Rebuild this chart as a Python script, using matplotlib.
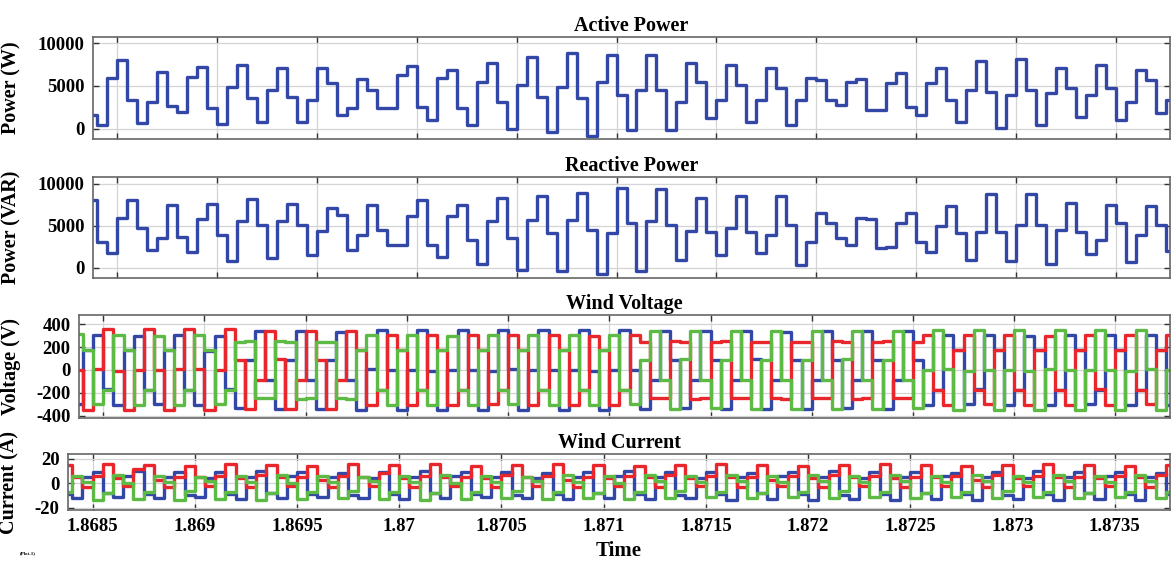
import numpy as np
import matplotlib
matplotlib.use("Agg")
import matplotlib.pyplot as plt

plt.rcParams["font.family"] = ["Liberation Serif", "DejaVu Serif"]
plt.rcParams["font.weight"] = "bold"
plt.rcParams["axes.unicode_minus"] = False

# stepped signals, one value per 50 us step starting at t_start
t_start = 1.86835
t_step = 5e-5

active_power = [
    1630, 470, 5900, 8020, 3370, 700, 3140, 6630, 2670, 1980,
    6050, 7200, 2440, 580, 4880, 7440, 3600, 810, 4530, 7090,
    3720, 810, 3370, 7090, 5350, 1630, 2440, 5810, 4530, 2440,
    2440, 6280, 7330, 2560, 1050, 5930, 6860, 2440, 470, 5470,
    7670, 3140, 0, 5120, 8370, 3720, -350, 4880, 8840, 3600,
    -810, 5470, 8600, 3950, -120, 4530, 8600, 4530, -120, 3140,
    7670, 5470, 1280, 3370, 7440, 5120, 810, 3370, 7090, 4770,
    470, 3370, 5930, 5700, 3370, 2790, 5470, 5810, 2210, 2210,
    5350, 6510, 2560, 1630, 5350, 7090, 3370, 810, 4530, 7910,
    4300, 120, 3950, 8140, 4530, 470, 4190, 7090, 4770, 1400,
    3950, 7440, 4770, 1050, 3140, 6860, 5700, 1860, 3370,
]

reactive_power = [
    8120, 3120, 1720, 5920, 8120, 4720, 2120, 3520, 7520, 3720,
    1840, 5840, 7600, 3920, 800, 5600, 8240, 5120, 1120, 5600,
    7600, 5120, 1520, 4400, 7120, 6320, 2120, 3920, 7520, 4520,
    2720, 2720, 6120, 8120, 2720, 1320, 6120, 7520, 3320, 520,
    5520, 8320, 3520, -280, 5720, 8520, 4120, -400, 5720, 8920,
    4520, -680, 4120, 9520, 5320, -400, 5520, 9320, 5120, 920,
    4400, 8320, 4320, 1520, 4720, 8520, 4320, 1720, 3920, 8520,
    5120, 320, 3120, 6520, 5320, 3520, 2720, 5920, 5840, 2320,
    2500, 5320, 6520, 3120, 1840, 4920, 7320, 4120, 920, 4320,
    8800, 4320, 800, 5120, 8800, 5120, 520, 4520, 7720, 4320,
    1600, 3320, 7520, 5320, 720, 3920, 7320, 5120, 2000,
]

# phase voltages (V), four steps per group
volt_a = [
    -300, 170, 305, -170,  -305, 175, 300, -175,  -300, 170, 305, -175,  -305, 165, 300, -170,
    -335, 90, 340, -90,  -338, 90, 338, -92,  -340, 85, 335, -90,
    -350, 5, 350, 0,  -348, 0, 352, -5,  -350, 0, 350, 0,  -350, -5, 348, 5,
    -352, 0, 350, 0,  -350, 0, 350, -5,  -348, 0, 352, 0,
    -338, -90, 338, 90,  -335, -92, 340, 90,  -338, -90, 338, 92,  -340, -88, 335, 90,
    -338, -90, 340, 90,  -336, -92, 338, 88,  -338, -90, 338, 90,
    -303, -175, 303, 175,  -300, -170, 305, 175,  -305, -175, 300, 172,  -303, -175, 303, 175,
    -300, -172, 305, 175,  -303, -175, 303, 170,  -305,
]
volt_b = [
    0, -350, 5, 360,  -5, -350, 0, 360,  0, -352, 5, 355,  5, -350, 0, 358,
    90, -338, -90, 340,  92, -338, -90, 338,  90, -340, -92, 338,
    175, -303, -175, 305,  172, -305, -175, 303,  175, -303, -172, 303,  175, -300, -175, 305,
    172, -303, -175, 303,  175, -305, -172, 300,  175, -303, -175, 303,
    247, -247, -247, 250,  245, -250, -247, 247,  250, -247, -245, 247,  247, -245, -250, 247,
    245, -247, -247, 250,  247, -250, -245, 247,  250, -247, -247, 245,
    303, -175, -303, 175,  305, -172, -300, 175,  303, -175, -305, 170,  300, -175, -303, 175,
    303, -170, -305, 175,  305, -175, -300, 172,  303,
]
volt_c = [
    310, 175, -300, -175,  305, 178, -303, -172,  300, 175, -305, -175,  305, 172, -300, -178,
    247, 250, -247, -247,  250, 247, -250, -245,  247, 247, -245, -250,
    175, 305, -175, -303,  172, 303, -175, -305,  175, 300, -172, -303,  178, 303, -175, -300,
    175, 303, -175, -305,  172, 305, -178, -303,  175, 303, -175, -300,
    90, 338, -90, -338,  92, 340, -90, -336,  90, 338, -92, -338,  88, 336, -90, -340,
    90, 338, -88, -338,  92, 340, -90, -338,  90, 338, -90, -336,
    0, 350, 5, -350,  -5, 352, 0, -348,  0, 350, -5, -350,  5, 348, 0, -352,
    0, 350, 0, -350,  -5, 352, 5, -350,  0,
]

# phase currents (A), four steps per group
curr_a = [
    15, 5, -3, 6,  16, 4, -2, 12,  15, 3, -3, 5,  14, 5, -2, 6,  16, 4, -3, 7,
    15, 5, -2, 5,  14, 3, -3, 6,  16, 5, -2, 8,  15, 4, -3, 6,  16, 5, -2, 5,
    14, 4, -3, 7,  15, 5, -2, 6,  16, 3, -3, 5,  15, 4, -2, 6,  14, 5, -3, 7,
    15, 4, -2, 6,  16, 5, -3, 5,  15, 3, -2, 6,  14, 4, -3, 7,  15, 5, -2, 6,
    16, 4, -3, 5,  15, 5, -2, 6,  14, 3, -3, 7,  15, 4, -2, 6,  16, 5, -3, 5,
    15, 4, -2, 6,  14, 5, -3, 7,  15,
]
curr_b = [
    -9, -12, 5, 9,  -8, -11, 6, 10,  -9, -12, 5, 9,  -10, -11, 4, 9,  -9, -13, 5, 10,
    -8, -12, 6, 9,  -9, -11, 5, 8,  -10, -12, 4, 9,  -9, -13, 5, 10,  -8, -12, 6, 9,
    -9, -11, 5, 9,  -10, -12, 4, 8,  -9, -13, 5, 9,  -8, -12, 6, 10,  -9, -13, 5, 9,
    -10, -12, 4, 9,  -9, -14, 5, 8,  -8, -13, 6, 9,  -9, -14, 5, 10,  -10, -13, 4, 9,
    -9, -14, 5, 9,  -8, -13, 6, 8,  -9, -14, 5, 9,  -10, -13, 4, 10,  -9, -14, 5, 9,
    -8, -13, 6, 9,  -9, -14, 5, 8,  -9,
]
curr_c = [
    -7, 6, 1, -14,  -8, 7, 0, -13,  -7, 6, 1, -14,  -6, 5, 2, -13,  -7, 6, 1, -14,
    -8, 7, 0, -13,  -7, 6, 1, -12,  -6, 5, 2, -13,  -7, 6, 1, -14,  -8, 7, 0, -13,
    -7, 6, 1, -12,  -6, 5, 2, -13,  -7, 7, 1, -12,  -8, 6, 0, -13,  -7, 7, 2, -12,
    -6, 6, 1, -11,  -7, 7, 2, -12,  -8, 6, 1, -11,  -7, 7, 2, -12,  -6, 6, 1, -11,
    -7, 7, 2, -12,  -8, 6, 1, -11,  -7, 7, 2, -12,  -6, 6, 1, -11,  -7, 7, 2, -12,
    -8, 6, 1, -11,  -7, 7, 2, -12,  -7,
]

time_ticks = [1.8685, 1.869, 1.8695, 1.87, 1.8705, 1.871,
              1.8715, 1.872, 1.8725, 1.873, 1.8735]
time_labels = ["1.8685", "1.869", "1.8695", "1.87", "1.8705", "1.871",
               "1.8715", "1.872", "1.8725", "1.873", "1.8735"]
t_lim = (1.86838, 1.87377)

BLUE = "#3347a6"
RED = "#e8262b"
GREEN = "#5dbb45"

W, H = 1173, 563
fig = plt.figure(figsize=(W / 100, H / 100), dpi=100)


def px_axes(left, top, right, bottom):
    return fig.add_axes([left / W, 1 - bottom / H, (right - left) / W, (bottom - top) / H])


def edges(n):
    return t_start + t_step * np.arange(n + 1)


def trace(ax, vals, color):
    ax.stairs(vals, edges(len(vals)), baseline=None, color=color, lw=2.4,
              joinstyle="round", capstyle="round")


def style(ax, title, ylabel, yticks, ylim, label_x):
    ax.set_xlim(*t_lim)
    ax.set_ylim(*ylim)
    ax.set_yticks(yticks)
    ax.set_xticks(time_ticks)
    ax.set_xticklabels([])
    ax.grid(True, color="#d4d4d4", lw=0.9)
    ax.set_axisbelow(True)
    ax.tick_params(direction="in", length=4, width=1, top=True, right=True,
                   labelsize=13.5, pad=6, colors="#333333", labelcolor="black")
    for s in ax.spines.values():
        s.set_color("#666666")
        s.set_linewidth(1.2)
    ax.set_title(title, fontsize=14.5, fontweight="bold", pad=4)
    ax.set_ylabel(ylabel, fontsize=14.5, fontweight="bold")
    box = ax.get_position()
    ax.yaxis.set_label_coords(label_x / W, box.y0 + box.height / 2, transform=fig.transFigure)


ax1 = px_axes(93, 37, 1170, 139)
trace(ax1, active_power, BLUE)
style(ax1, "Active Power", "Power (W)", [0, 5000, 10000], (-1200, 10700), 21)

ax2 = px_axes(93, 177, 1170, 278)
trace(ax2, reactive_power, BLUE)
style(ax2, "Reactive Power", "Power (VAR)", [0, 5000, 10000], (-1200, 10800), 21)

ax3 = px_axes(79, 315, 1170, 418)
for vals, c in ((volt_a, BLUE), (volt_b, RED), (volt_c, GREEN)):
    trace(ax3, vals, c)
style(ax3, "Wind Voltage", "Voltage (V)", [-400, -200, 0, 200, 400], (-420, 480), 21)

ax4 = px_axes(68, 454, 1170, 510)
for vals, c in ((curr_b, BLUE), (curr_a, RED), (curr_c, GREEN)):
    trace(ax4, vals, c)
style(ax4, "Wind Current", "Current (A)", [-20, 0, 20], (-22, 24), 19)
ax4.set_xticklabels(time_labels)
ax4.set_xlabel("Time", fontsize=15, fontweight="bold", labelpad=4)

fig.text(20 / W, 1 - 553 / H, "(Plot-1)", fontsize=3.5, ha="left", va="center")

fig.savefig("out.png", dpi=100)
